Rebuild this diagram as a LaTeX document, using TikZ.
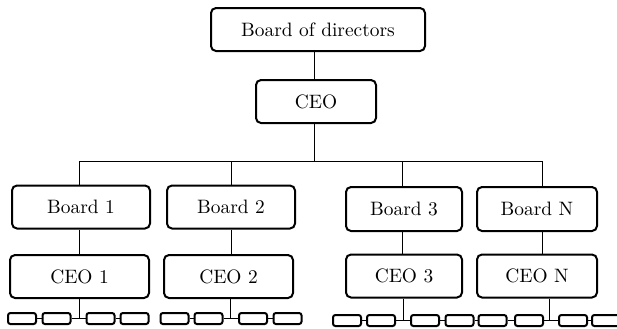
\documentclass[tikz,border=0pt]{standalone}
\begin{document}
\tikzset{
  box/.style={draw, line width=1pt, rounded corners=2.5pt, inner sep=0pt, minimum height=21.5pt, font=\fontsize{9.7}{12}\selectfont},
  small/.style={draw, line width=1pt, rounded corners=1.2pt, minimum width=14pt, minimum height=5.5pt, inner sep=0pt},
  conn/.style={line width=0.5pt}
}
\begin{tikzpicture}[x=0.5pt,y=-0.5pt]
\useasboundingbox (0,0) rectangle (617,328);
% main boxes
\node[box, minimum width=107pt] (bod) at (318,29.5) {Board of directors};
\node[box, minimum width=60pt] (ceo) at (316,101.5) {CEO};
\node[box, minimum width=69pt] (b1) at (81,207) {Board 1};
\node[box, minimum width=64pt] (b2) at (231,207) {Board 2};
\node[box, minimum width=58pt, minimum height=22pt] (b3) at (404,209) {Board 3};
\node[box, minimum width=60pt, minimum height=22pt] (bN) at (537,209) {Board N};
\node[box, minimum width=69.5pt] (c1) at (79.5,276.5) {CEO 1};
\node[box, minimum width=64.5pt] (c2) at (228.5,276.5) {CEO 2};
\node[box, minimum width=58pt] (c3) at (404,276) {CEO 3};
\node[box, minimum width=60pt] (cN) at (537,276) {CEO N};
% junctions
\coordinate (top) at (314,161);
\coordinate (j1) at (79,161);
\coordinate (j2) at (231,161);
\coordinate (j3) at (402,161);
\coordinate (j4) at (542,161);
\coordinate (k1) at (79,318.5);
\coordinate (k2) at (230,318.5);
\coordinate (k3) at (403,320.5);
\coordinate (kN) at (549.5,320.5);
% small boxes
\foreach \n/\x in {11/22,12/56.5,13/100.5,14/134.5,21/174.5,22/208.5,23/253,24/287.5}
  \node[small] (s\n) at (\x,318.5) {};
\foreach \n/\x in {31/347,32/381,33/425,34/459.5,N1/492.5,N2/529,N3/573,N4/606}
  \node[small] (s\n) at (\x,320.5) {};
% connectors
\draw[conn] (bod.south -| top) -- (ceo.north -| top);
\draw[conn] (ceo.south -| top) -- (top);
\draw[conn] (j1) -- (j4);
\draw[conn] (j1) -- (j1 |- b1.north);
\draw[conn] (j2) -- (j2 |- b2.north);
\draw[conn] (j3) -- (j3 |- b3.north);
\draw[conn] (j4) -- (j4 |- bN.north);
\draw[conn] (b1.south -| j1) -- (c1.north -| j1);
\draw[conn] (b2.south -| j2) -- (c2.north -| j2);
\draw[conn] (b3.south -| j3) -- (c3.north -| j3);
\draw[conn] (bN.south -| j4) -- (cN.north -| j4);
\draw[conn] (c1.south -| k1) -- (k1);
\draw[conn] (c2.south -| k2) -- (k2);
\draw[conn] (c3.south -| k3) -- (k3);
\draw[conn] (cN.south -| kN) -- (kN);
\draw[conn] (s11.east) -- (s12.west) (s12.east) -- (s13.west) (s13.east) -- (s14.west);
\draw[conn] (s21.east) -- (s22.west) (s22.east) -- (s23.west) (s23.east) -- (s24.west);
\draw[conn] (s31.east) -- (s32.west) (s32.east) -- (s33.west) (s33.east) -- (s34.west)
  (s34.east) -- (sN1.west) (sN1.east) -- (sN2.west) (sN2.east) -- (sN3.west) (sN3.east) -- (sN4.west);
\end{tikzpicture}
\end{document}
